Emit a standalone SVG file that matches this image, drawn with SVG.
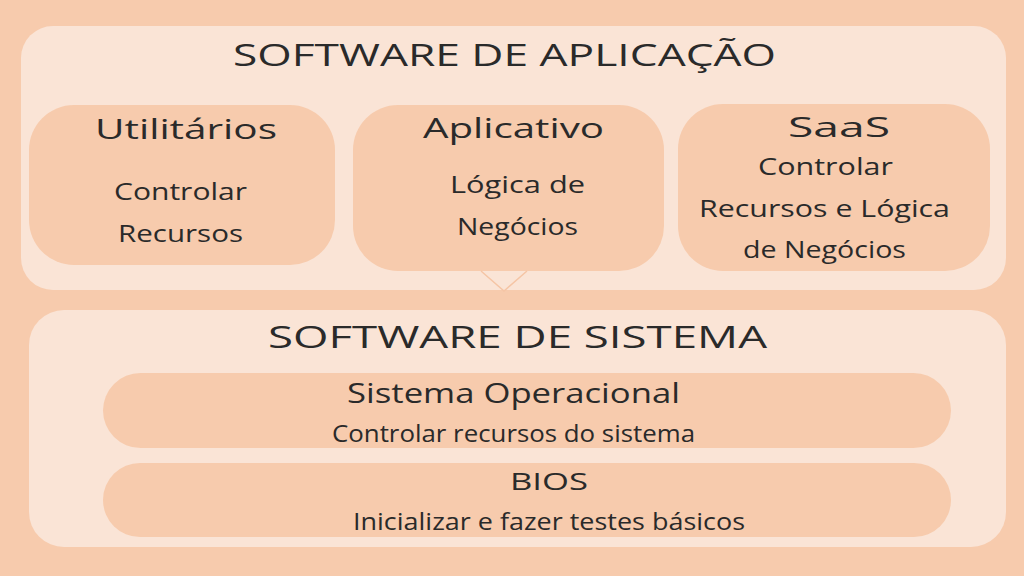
<svg xmlns="http://www.w3.org/2000/svg" width="1024" height="576" viewBox="0 0 1024 576">
<style>
.bg{fill:#F7CBAD}
.panel{fill:#FAE4D6}
.box{fill:#F7CBAD}
text{font-family:"Open Sans","DejaVu Sans",sans-serif;fill:#2A2A2A;text-anchor:middle}
.t1{font-size:31px}
.t2{font-size:28px}
.t3{font-size:23px}
.conn{fill:none;stroke:#F5C5A5;stroke-width:1.5}
</style>
<rect class="bg" x="0" y="0" width="1024" height="576"/>
<g id="software-aplicacao">
<rect class="panel" x="21" y="26" width="985" height="264" rx="32"/>
<text class="t1" x="504.5" y="66" textLength="543" lengthAdjust="spacingAndGlyphs">SOFTWARE DE APLICAÇÃO</text>
</g>
<g id="utilitarios">
<rect class="box" x="29" y="105" width="306" height="160" rx="45"/>
<text class="t2" x="186" y="139" textLength="182" lengthAdjust="spacingAndGlyphs">Utilitários</text>
<text class="t3" x="180.5" y="200" textLength="133" lengthAdjust="spacingAndGlyphs">Controlar</text>
<text class="t3" x="180.5" y="242" textLength="125" lengthAdjust="spacingAndGlyphs">Recursos</text>
</g>
<g id="aplicativo">
<rect class="box" x="353" y="105" width="311" height="166" rx="45"/>
<text class="t2" x="513.5" y="138" textLength="181" lengthAdjust="spacingAndGlyphs">Aplicativo</text>
<text class="t3" x="517.5" y="193" textLength="135" lengthAdjust="spacingAndGlyphs">Lógica de</text>
<text class="t3" x="517.5" y="235" textLength="121" lengthAdjust="spacingAndGlyphs">Negócios</text>
</g>
<g id="saas">
<rect class="box" x="678" y="104" width="312" height="167" rx="45"/>
<text class="t2" x="839" y="137" textLength="102" lengthAdjust="spacingAndGlyphs">SaaS</text>
<text class="t3" x="825.5" y="175" textLength="135" lengthAdjust="spacingAndGlyphs">Controlar</text>
<text class="t3" x="824.5" y="217" textLength="251" lengthAdjust="spacingAndGlyphs">Recursos e Lógica</text>
<text class="t3" x="824.5" y="258" textLength="163" lengthAdjust="spacingAndGlyphs">de Negócios</text>
</g>
<g id="connectors">
<polyline class="conn" points="481,271 504,291 527,271"/>
</g>
<g id="software-sistema">
<rect class="panel" x="29" y="310" width="977" height="237" rx="35"/>
<text class="t1" x="517.5" y="348" textLength="499" lengthAdjust="spacingAndGlyphs">SOFTWARE DE SISTEMA</text>
</g>
<g id="sistema-operacional">
<rect class="box" x="103" y="373" width="848" height="75" rx="37.5"/>
<text class="t2" x="513.5" y="403" textLength="333" lengthAdjust="spacingAndGlyphs">Sistema Operacional</text>
<text class="t3" x="513.5" y="442" textLength="363" lengthAdjust="spacingAndGlyphs">Controlar recursos do sistema</text>
</g>
<g id="bios">
<rect class="box" x="103" y="463" width="848" height="74" rx="37"/>
<text class="t3" x="549" y="490" textLength="78" lengthAdjust="spacingAndGlyphs">BIOS</text>
<text class="t3" x="549" y="530" textLength="392" lengthAdjust="spacingAndGlyphs">Inicializar e fazer testes básicos</text>
</g>
</svg>
